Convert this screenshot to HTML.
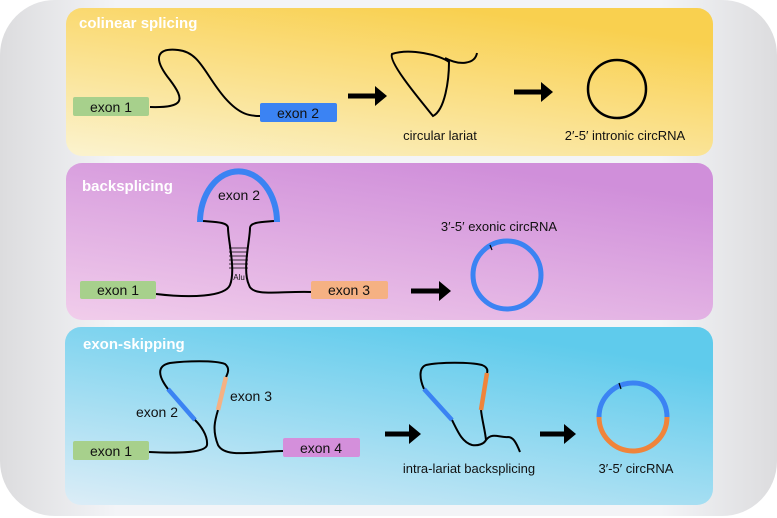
<!DOCTYPE html>
<html><head><meta charset="utf-8"><style>
html,body{margin:0;padding:0;background:#fff;}
svg{display:block;}
text{font-family:"Liberation Sans","DejaVu Sans",sans-serif;}
</style></head><body>
<svg width="777" height="518" viewBox="0 0 777 518" xmlns="http://www.w3.org/2000/svg">
<defs>
<linearGradient id="bg" x1="0" y1="0" x2="1" y2="0">
<stop offset="0" stop-color="#dcdcde"/><stop offset="0.15" stop-color="#f3f4f7"/><stop offset="0.85" stop-color="#f3f4f7"/><stop offset="1" stop-color="#dcdcde"/></linearGradient>
<linearGradient id="y" x1="0" y1="1" x2="0.6" y2="0"><stop offset="0" stop-color="#fbf3cf"/><stop offset="1" stop-color="#f9d04f"/></linearGradient>
<linearGradient id="p" x1="0" y1="1" x2="0.6" y2="0"><stop offset="0" stop-color="#f1cdeb"/><stop offset="1" stop-color="#d08fda"/></linearGradient>
<linearGradient id="b" x1="0" y1="1" x2="0.6" y2="0"><stop offset="0" stop-color="#dcedf7"/><stop offset="1" stop-color="#5fcbec"/></linearGradient>
<marker id="ah" markerWidth="4" markerHeight="4" refX="1" refY="2" orient="auto" markerUnits="strokeWidth"><path d="M0,0 L2.4,2 L0,4z" fill="#000"/></marker>
</defs>
<rect x="0" y="0" width="777" height="516" rx="55" fill="url(#bg)"/>
<rect x="66" y="8" width="647" height="148" rx="16" fill="url(#y)"/>
<rect x="66" y="163" width="647" height="157" rx="16" fill="url(#p)"/>
<rect x="65" y="327" width="648" height="178" rx="16" fill="url(#b)"/>

<g font-weight="bold" fill="#fff" font-size="15">
<text x="79" y="28">colinear splicing</text>
<text x="82" y="191">backsplicing</text>
<text x="83" y="349">exon-skipping</text>
</g>

<!-- colinear -->
<g fill="none" stroke="#000" stroke-width="2">
<path d="M150,107 C185,108 185,100 170,80 C150,55 160,48 178,50 C200,52 205,75 225,98 C240,115 250,116 260,116"/>
<path d="M392,54 C388,62 420,100 433,116 C445,110 449,80 449,62 C440,55 410,48 392,54 Z M445,58 C460,66 475,64 477,53"/>
</g>
<circle cx="617" cy="89" r="29" fill="none" stroke="#000" stroke-width="2.5"/>
<rect x="73" y="97" width="76" height="19" rx="2" fill="#a7d08c"/>
<text x="111" y="112" font-size="14" text-anchor="middle" fill="#111">exon 1</text>
<rect x="260" y="103" width="77" height="19" rx="2" fill="#3b83f3"/>
<text x="298" y="118" font-size="14" text-anchor="middle" fill="#111">exon 2</text>
<line x1="348" y1="96" x2="380" y2="96" stroke="#000" stroke-width="5" marker-end="url(#ah)"/>
<line x1="514" y1="92" x2="546" y2="92" stroke="#000" stroke-width="5" marker-end="url(#ah)"/>
<text x="440" y="140" font-size="13" text-anchor="middle" fill="#111">circular lariat</text>
<text x="625" y="140" font-size="13" text-anchor="middle" fill="#111">2′-5′  intronic circRNA</text>

<!-- backsplicing -->
<g fill="none" stroke="#000" stroke-width="2">
<path d="M156,294 C190,298 225,297 230,285 C236,270 228,240 228,228 C228,222 215,222 203,221"/>
<path d="M311,292 C280,291 252,297 249,285 C242,270 250,240 250,228 C250,222 262,222 274,221"/>
</g>
<g stroke="#000" stroke-width="0.7">
<line x1="229" y1="248" x2="248" y2="248"/><line x1="229" y1="252" x2="248" y2="252"/>
<line x1="229" y1="256" x2="248" y2="256"/><line x1="229" y1="260" x2="248" y2="260"/>
<line x1="229" y1="264" x2="248" y2="264"/><line x1="229" y1="268" x2="248" y2="268"/>
</g>
<text x="239" y="280" font-size="8" text-anchor="middle" fill="#111">Alu</text>
<path d="M200,222 A38,50 0 0 1 277,222" fill="none" stroke="#3b83f3" stroke-width="6"/>
<text x="239" y="200" font-size="14" text-anchor="middle" fill="#111">exon 2</text>
<rect x="80" y="281" width="76" height="18" rx="2" fill="#a7d08c"/>
<text x="118" y="295" font-size="14" text-anchor="middle" fill="#111">exon 1</text>
<rect x="311" y="281" width="77" height="18" rx="2" fill="#f5b183"/>
<text x="349" y="295" font-size="14" text-anchor="middle" fill="#111">exon 3</text>
<line x1="411" y1="291" x2="444" y2="291" stroke="#000" stroke-width="5" marker-end="url(#ah)"/>
<circle cx="507" cy="275" r="34" fill="none" stroke="#3b83f3" stroke-width="5"/>
<line x1="490" y1="245" x2="492" y2="250" stroke="#000" stroke-width="1.2"/>
<text x="499" y="231" font-size="13" text-anchor="middle" fill="#111">3′-5′ exonic circRNA</text>

<!-- exon-skipping -->
<g fill="none" stroke="#000" stroke-width="2">
<path d="M149,452 C170,453 205,454 207,445 C208,435 200,425 195,420 L168,389 C155,372 160,365 170,363 C185,361 215,360 225,364 C230,368 228,373 226,377"/>
<path d="M283,451 C250,452 225,458 218,445 C212,430 215,420 218,410"/>
<path d="M424,389 C420,380 418,368 426,365 C440,362 470,362 482,365 C487,367 488,370 487,373"/>
<path d="M452,420 C458,432 462,442 472,445 C478,446 484,444 486,440 C485,430 482,420 481,410"/>
<path d="M486,440 C492,432 500,438 508,437 C513,437 516,442 520,452"/>
</g>
<line x1="168" y1="389" x2="195" y2="420" stroke="#3b83f3" stroke-width="4.5"/>
<line x1="226" y1="377" x2="218" y2="410" stroke="#f5b183" stroke-width="4.5"/>
<text x="157" y="417" font-size="14" text-anchor="middle" fill="#111">exon 2</text>
<text x="251" y="401" font-size="14" text-anchor="middle" fill="#111">exon 3</text>
<rect x="73" y="441" width="76" height="19" rx="2" fill="#a7d08c"/>
<text x="111" y="456" font-size="14" text-anchor="middle" fill="#111">exon 1</text>
<rect x="283" y="438" width="77" height="19" rx="2" fill="#d48fdb"/>
<text x="321" y="453" font-size="14" text-anchor="middle" fill="#111">exon 4</text>
<line x1="385" y1="434" x2="414" y2="434" stroke="#000" stroke-width="5" marker-end="url(#ah)"/>
<line x1="540" y1="434" x2="569" y2="434" stroke="#000" stroke-width="5" marker-end="url(#ah)"/>
<line x1="424" y1="389" x2="452" y2="420" stroke="#3b83f3" stroke-width="4.5"/>
<line x1="487" y1="373" x2="481" y2="410" stroke="#f0843a" stroke-width="4.5"/>
<path d="M599,417 A34,34 0 0 1 667,417" fill="none" stroke="#3b83f3" stroke-width="5"/>
<path d="M667,417 A34,34 0 0 1 599,417" fill="none" stroke="#f0843a" stroke-width="5"/>
<line x1="619" y1="383" x2="621" y2="389" stroke="#000" stroke-width="1.2"/>
<text x="469" y="473" font-size="13" text-anchor="middle" fill="#111">intra-lariat backsplicing</text>
<text x="636" y="473" font-size="13" text-anchor="middle" fill="#111">3′-5′ circRNA</text>
</svg>
</body></html>
